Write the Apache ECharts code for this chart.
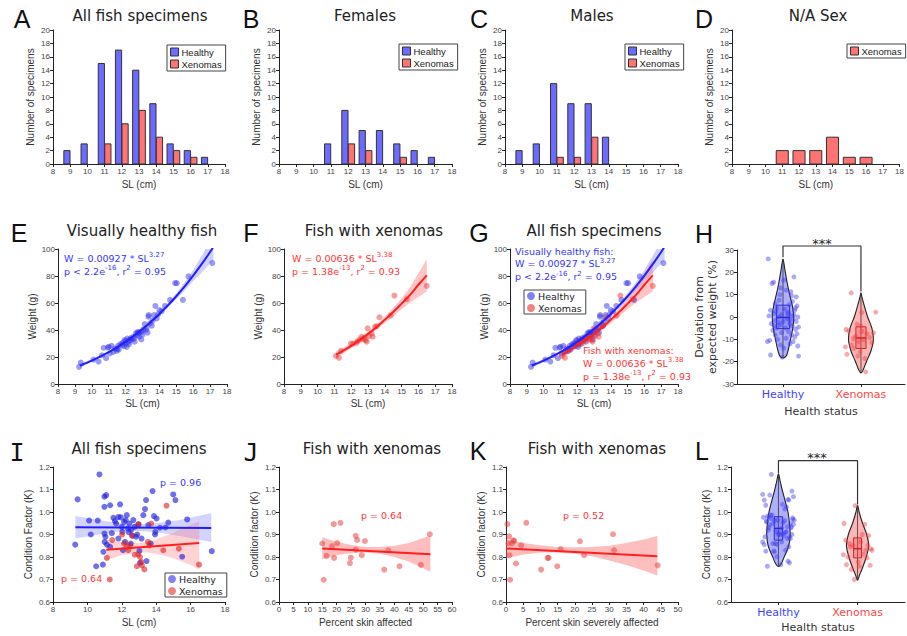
<!DOCTYPE html>
<html><head><meta charset="utf-8">
<script src="https://cdn.jsdelivr.net/npm/echarts@6/dist/echarts.min.js"></script>
<style>html,body{margin:0;padding:0;background:#fff}#c{width:907px;height:636px}</style>
</head><body><div id="c"></div>
<script>
// ---------- DATA ----------
const slBins = [9, 10, 11, 12, 13, 14, 15, 16, 17];
const allHealthy = [2, 3, 15, 17, 14, 9, 3, 2, 1];
const allXeno = [0, 0, 3, 6, 8, 4, 2, 1, 0];
const femHealthy = [0, 0, 3, 8, 5, 5, 3, 2, 1];
const femXeno = [0, 0, 0, 3, 2, 0, 1, 0, 0];
const maleHealthy = [2, 3, 12, 9, 9, 4, 0, 0, 0];
const maleXeno = [0, 0, 1, 1, 4, 0, 0, 0, 0];
const naXeno = [0, 0, 2, 2, 2, 4, 1, 1, 0];

// weight vs SL (cm, g)
const wHealthy = [[9.25,12.7],[9.35,15.9],[10.1,18.1],[10.4,16.6],[10.6,21.3],[10.7,26.8],[10.85,19.1],[10.95,27],[11.0,27.5],[11.07,22.6],
[11.17,28.3],[11.27,23.8],[11.37,26.3],[11.47,24.6],[11.56,28.3],[11.7,29.5],[11.82,30.5],[11.9,28],[11.94,32.5],[12.02,30],
[12.06,27.5],[12.1,33.7],[12.18,31.3],[12.26,32.5],[12.36,33],[12.46,35],[12.53,31.3],[12.61,37.5],[12.69,36.2],[12.77,38],
[12.85,38.7],[12.93,33],[12.97,38.7],[13.05,40.4],[13.13,44.4],[13.25,41.7],[13.3,38],[13.35,49.9],[13.37,51],[13.45,45],
[13.55,43.2],[13.68,51],[13.76,57.8],[13.84,48.6],[13.92,51.6],[14.0,54.8],[14.14,54],[14.33,57.8],[14.63,62.3],[14.93,74.7],
[15.03,74.7],[15.39,62.3],[15.72,79.7],[17.13,89.6],[11.5,26],[11.6,25.5],[11.8,29],[12.0,32],[12.2,29.5],[12.3,34],
[12.5,33.5],[12.7,38.5],[12.8,35],[13.0,36.5],[13.2,40],[13.6,47]];
const wXeno = [[11.09,20.8],[11.27,19.4],[11.39,24.6],[11.98,30],[12.12,30],[12.38,31.8],[12.52,33],[12.62,35],[12.78,34.2],[12.86,32.5],
[12.98,41.2],[13.06,35.5],[13.28,35],[13.42,42.4],[13.52,42.9],[13.68,49.4],[14.35,50.6],[14.57,65.5],[15.31,62.8],[16.5,72.7],
[12.72,33],[12.92,31.3],[13.22,37.5],[12.32,30.5]];

const healthyFitX = [9.3, 9.5, 10, 10.5, 11, 11.5, 12, 12.5, 13, 13.5, 14, 14.5, 15, 15.5, 16, 16.5, 17, 17.2];
const healthyFitY = [13.6, 14.6, 17.3, 20.3, 23.6, 27.3, 31.3, 35.8, 40.7, 46.1, 51.9, 58.2, 65.0, 72.4, 80.3, 88.8, 97.8, 101.8];
const healthyBandLow = [12.3, 13.4, 16.3, 19.5, 22.9, 26.7, 30.7, 35.1, 39.9, 45.1, 50.6, 56.4, 62.7, 69.3, 76.2, 82.5, 89.5, 91.5];
const healthyBandHigh = [15.0, 15.8, 18.3, 21.1, 24.3, 27.9, 31.9, 36.5, 41.5, 47.1, 53.2, 60.0, 67.3, 75.5, 84.4, 95.0, 106, 112];
const xenoFitX = [11.1, 11.5, 12, 12.5, 13, 13.5, 14, 14.5, 15, 15.5, 16, 16.5];
const xenoFitY = [21.7, 24.5, 28.3, 32.5, 37.1, 42.1, 47.6, 53.3, 59.5, 66.0, 73.5, 80.5];
const xenoBandLow = [19.3, 22.4, 26.5, 30.9, 35.5, 40.3, 45.2, 50.2, 55.3, 60.4, 64.5, 68.5];
const xenoBandHigh = [24.1, 26.6, 30.1, 34.1, 38.7, 43.9, 49.8, 56.4, 63.5, 71.4, 82.0, 92.5];

// deviation from expected weight (%) : [jitter, value]
const devHealthy = [[-0.19,26],[-0.14,15],[-0.12,15.6],[0.14,18],[0.01,16.5],[0.04,12],[0.1,11.3],[-0.03,13],[0.17,9],[-0.05,7.5],
[0.12,7],[-0.1,6],[0.08,5.5],[0.18,5],[-0.16,3],[-0.08,4],[0.02,3.5],[0.15,3],[0.07,2],[-0.12,1.5],
[-0.02,1],[0.1,0.5],[0.19,0],[-0.18,0.5],[-0.06,0],[0.05,-0.5],[0.13,-1],[-0.1,-1.5],[0.0,-2],[0.17,-2],
[-0.15,-3],[0.09,-3],[-0.04,-3.5],[0.12,-4],[0.2,-4.5],[-0.08,-5],[0.03,-5],[0.16,-5.5],[-0.13,-6],[0.07,-6.5],
[-0.02,-7],[0.18,-7.5],[-0.1,-8],[0.11,-8],[0.15,-9],[0.04,-9.5],[-0.07,-10],[-0.2,-11],[-0.17,-10.5],[0.13,-11],
[0.09,-12],[-0.03,-12.5],[0.19,-13],[0.01,-14],[-0.16,-17],[0.2,-17.5],[-0.01,-18],[0.06,1.5],[-0.09,2.5],[0.11,9.5],
[-0.04,10],[0.16,4],[-0.06,-2.5],[0.08,-1.5],[0.14,1],[-0.11,-4]];
const devXeno = [[-0.125,10.8],[0.19,2.2],[0.01,2],[-0.19,-5.6],[-0.16,-6.2],[0.16,-7.1],[0.08,-7.5],[-0.05,-3.2],[0.0,-4],[-0.07,-8.6],
[0.03,-10.1],[0.11,-9.2],[-0.2,-13.4],[-0.12,-12.6],[-0.18,-16.7],[-0.01,-15.6],[-0.04,-17.5],[0.05,-18.6],[0.06,-24.6],[-0.09,-14.1],
[0.14,-11.5],[-0.03,-11.0],[0.01,-6.5],[-0.1,-9.8]];
const devBoxHealthy = [-5.2, -0.2, 5.3];
const devBoxXeno = [-14.1, -9.4, -4.4];
const devViolinHealthyY = [26, 24, 20, 15, 10, 5, 0, -5, -10, -15, -17.5, -18.3];
const devViolinHealthyW = [0, 0.012, 0.03, 0.055, 0.086, 0.12, 0.138, 0.125, 0.097, 0.065, 0.04, 0];
const devViolinXenoY = [10.8, 9, 5, 0, -5, -10, -15, -20, -23.5, -25];
const devViolinXenoW = [0, 0.012, 0.043, 0.086, 0.14, 0.16, 0.13, 0.07, 0.03, 0];
const devBracket = [[1, 26.8], [1, 31.8], [2, 31.8], [2, 11.4]];

// condition factor vs SL
const kHealthy = [[9.29,0.855],[9.43,1.056],[10.1,0.962],[10.2,0.9],[10.51,0.759],[10.6,0.962],[10.7,1.167],[10.9,0.766],[10.99,1.068],[11.09,1.075],
[10.99,0.904],[11.0,0.867],[11.05,0.89],[11.13,0.855],[10.99,1.023],[11.32,1.03],[11.42,0.906],[11.51,0.974],[11.67,0.949],[11.32,0.845],
[11.8,0.978],[11.9,1.034],[11.94,0.976],[12.0,0.934],[12.03,0.912],[12.07,0.83],[12.13,0.956],[12.23,0.964],[12.29,0.986],[12.36,0.927],
[12.44,0.949],[12.54,0.92],[12.61,0.895],[12.67,0.964],[12.75,0.934],[12.83,0.89],[12.9,0.9],[12.96,0.945],[13.02,0.827],[13.06,0.774],
[13.25,0.986],[13.35,1.013],[13.41,1.053],[13.44,0.782],[13.68,0.86],[13.79,1.093],[13.87,0.982],[13.93,0.9],[13.95,0.912],[14.02,0.971],
[14.22,0.93],[14.54,0.931],[14.7,0.953],[14.99,1.078],[15.12,1.053],[15.51,0.801],[15.8,0.967],[17.23,0.826],[12.19,0.867],[12.52,0.86],
[13.15,0.882],[13.54,0.942],[11.8,0.882],[10.93,0.823],[12.4,0.91],[11.6,0.96]];
const kXeno = [[11.3,0.7],[11.13,0.796],[11.44,0.875],[12.02,0.9],[12.13,0.86],[12.38,0.83],[12.48,0.852],[12.6,0.895],[12.75,0.81],[12.88,0.759],
[12.98,0.945],[13.06,0.8],[13.17,0.763],[13.31,0.745],[13.52,0.867],[13.6,0.852],[13.71,0.949],[14.41,0.83],[14.6,1.028],[15.32,0.837],
[16.49,0.766],[12.96,0.812],[12.29,0.845],[13.13,0.778]];
const kHealthyFitX = [9.3, 17.2];
const kHealthyFitY = [0.932, 0.929];
const kHealthyBandX = [9.3, 10, 11, 12, 12.7, 13.5, 14.5, 15.5, 16.5, 17.2];
const kHealthyBandLow = [0.882, 0.891, 0.904, 0.914, 0.916, 0.913, 0.904, 0.891, 0.877, 0.867];
const kHealthyBandHigh = [0.982, 0.973, 0.960, 0.949, 0.946, 0.947, 0.955, 0.967, 0.983, 0.995];
const kXenoFitX = [11.1, 16.5];
const kXenoFitY = [0.832, 0.862];
const kXenoBandX = [11.1, 12, 13, 13.5, 14, 15, 16, 16.5];
const kXenoBandLow = [0.786, 0.808, 0.82, 0.82, 0.815, 0.795, 0.765, 0.745];
const kXenoBandHigh = [0.878, 0.865, 0.862, 0.868, 0.878, 0.908, 0.943, 0.96];

// condition factor vs percent skin affected
const skinAffected = [[15,0.86],[15.5,0.699],[16.5,0.805],[18.4,0.849],[19,0.946],[19.1,0.796],[20.2,0.862],[21.3,0.952],[24.6,0.773],[24.9,0.797],
[26.6,0.894],[26.6,0.833],[27.1,0.876],[28.7,0.808],[29.8,0.871],[36.5,0.744],[37.9,0.83],[41.8,0.759],[49.2,0.765],[52.3,0.901]];
const skinFitX = [15, 52.5];
const skinFitY = [0.838, 0.812];
const skinBandX = [15, 20, 25, 30, 35, 40, 45, 50, 52.5];
const skinBandLow = [0.79, 0.808, 0.818, 0.82, 0.815, 0.8, 0.78, 0.75, 0.735];
const skinBandHigh = [0.888, 0.868, 0.853, 0.845, 0.845, 0.85, 0.862, 0.885, 0.895];

const severe = [[0.4,0.946],[0.7,0.86],[0.9,0.892],[1.0,0.808],[1.2,0.699],[1.7,0.86],[2.1,0.874],[2.4,0.872],[2.9,0.771],[4.4,0.852],
[5.9,0.952],[10.2,0.744],[12.1,0.796],[12.4,0.796],[14.9,0.759],[15.9,0.835],[21.5,0.87],[22.7,0.808],[31.1,0.901],[31.4,0.83],[44.1,0.763]];
const severeFitX = [0, 44];
const severeFitY = [0.838, 0.803];
const severeBandX = [0, 5, 10, 15, 20, 25, 30, 35, 40, 44];
const severeBandLow = [0.795, 0.81, 0.82, 0.82, 0.815, 0.803, 0.785, 0.765, 0.74, 0.718];
const severeBandHigh = [0.88, 0.862, 0.852, 0.845, 0.843, 0.845, 0.85, 0.862, 0.878, 0.893];

// condition factor by status (jitter)
const kHealthyJitter = [-0.18,0.12,-0.05,0.17,-0.14,0.08,-0.09,0.03,0.19,-0.11,0.06,-0.2,0.14,-0.02,0.1,-0.16,0.01,0.18,-0.07,0.13,
-0.12,0.05,-0.19,0.16,-0.03,0.09,-0.15,0.2,-0.08,0.04,0.15,-0.13,0.07,-0.01,0.11,-0.17,0.02,0.19,-0.06,0.14,
-0.1,0.08,-0.18,0.12,-0.04,0.17,-0.14,0.0,0.1,-0.09,0.16,-0.12,0.06,-0.2,0.13,-0.02,0.18,-0.16,0.04,-0.07,
0.11,-0.11,0.15,-0.05,0.09,-0.15];
const kXenoJitter = [-0.04,0.12,-0.15,0.06,-0.1,0.18,-0.06,0.14,-0.18,0.02,0.09,-0.12,0.16,-0.08,0.04,0.13,-0.17,0.1,-0.03,0.17,-0.14,0.07,-0.09,0.01];
const kBoxHealthy = [0.875, 0.927, 0.979];
const kBoxXeno = [0.796, 0.837, 0.885];
const kViolinHealthyY = [1.17, 1.14, 1.1, 1.05, 1.0, 0.95, 0.9, 0.85, 0.8, 0.77, 0.757];
const kViolinHealthyW = [0, 0.02, 0.046, 0.084, 0.12, 0.14, 0.148, 0.13, 0.072, 0.035, 0];
const kViolinXenoY = [1.03, 1.0, 0.95, 0.9, 0.85, 0.8, 0.75, 0.72, 0.697];
const kViolinXenoW = [0, 0.02, 0.063, 0.116, 0.14, 0.11, 0.06, 0.025, 0];
const kBracket = [[1, 1.173], [1, 1.228], [2, 1.228], [2, 1.034]];

// ---------- STYLE ----------
const BLUE_BAR = '#6b6bff', RED_BAR = '#ff7373';
const BLUE_PT = 'rgba(45,45,235,0.6)', RED_PT = 'rgba(235,50,50,0.6)';
const BLUE_LINE = '#1f1fff', RED_LINE = '#ff1f1f';
const BLUE_BAND = 'rgba(100,100,255,0.3)', RED_BAND = 'rgba(255,100,100,0.38)';
const BLUE_TXT = '#3535ff', RED_TXT = '#ff3535';
const SANS = 'Liberation Sans', VER = 'DejaVu Sans';

const grids = [
 {left:53, top:30, width:172, height:134},
 {left:279, top:30, width:173, height:134},
 {left:505, top:30, width:173, height:134},
 {left:732, top:30, width:172, height:134},
 {left:58, top:249, width:169, height:135},
 {left:284, top:249, width:168, height:135},
 {left:510, top:249, width:168, height:135},
 {left:737, top:250, width:168, height:134},
 {left:53, top:467, width:172, height:135},
 {left:279, top:467, width:173, height:135},
 {left:506, top:467, width:172, height:135},
 {left:731, top:467, width:174, height:135}
];

function axis(gi, min, max, interval, name, nameGap, extra) {
  return Object.assign({
    type:'value', gridIndex:gi, min, max, interval, name, nameLocation:'middle', nameGap,
    nameTextStyle:{fontFamily:SANS, fontSize:10, color:'#333'},
    axisLine:{show:true, onZero:false, lineStyle:{color:'#222', width:1}},
    axisTick:{show:true, length:3, lineStyle:{color:'#222'}},
    axisLabel:{fontFamily:SANS, fontSize:8, color:'#444', margin:3},
    splitLine:{show:false}
  }, extra || {});
}
const kFmt = {fontFamily:SANS, fontSize:8, color:'#444', margin:3, formatter: v => v.toFixed(1)};
function statusAxis(gi, min, max, gap) {
  return {
    type:'value', gridIndex:gi, min, max, name:'Health status', nameLocation:'middle', nameGap:gap,
    nameTextStyle:{fontFamily:VER, fontSize:11, color:'#333'},
    axisLine:{show:true, onZero:false, lineStyle:{color:'#222', width:1}},
    axisTick:{show:true, length:3, customValues:[1, 2], lineStyle:{color:'#222'}},
    axisLabel:{customValues:[1, 2], margin:5,
      formatter: v => Math.round(v) === 1 ? '{h|Healthy}' : '{x|Xenomas}',
      rich:{h:{color:'#3f3fff', fontSize:11, fontFamily:VER}, x:{color:'#ff4545', fontSize:11, fontFamily:VER}}},
    splitLine:{show:false}
  };
}

const xAxis = [
  axis(0, 8, 18, 1, 'SL (cm)', 15), axis(1, 8, 18, 1, 'SL (cm)', 15),
  axis(2, 8, 18, 1, 'SL (cm)', 15), axis(3, 8, 18, 1, 'SL (cm)', 15),
  axis(4, 8, 18, 1, 'SL (cm)', 14), axis(5, 8, 18, 1, 'SL (cm)', 14), axis(6, 8, 18, 1, 'SL (cm)', 14),
  statusAxis(7, 0.41, 2.565, 22),
  axis(8, 8, 18, 2, 'SL (cm)', 15),
  axis(9, 0, 60, 5, 'Percent skin affected', 15),
  axis(10, 0, 50, 5, 'Percent skin severely affected', 15),
  statusAxis(11, 0.4, 2.6, 20)
];
const yAxis = [
  axis(0, 0, 20, 2, 'Number of specimens', 18), axis(1, 0, 20, 2, 'Number of specimens', 18),
  axis(2, 0, 20, 2, 'Number of specimens', 18), axis(3, 0, 20, 2, 'Number of specimens', 18),
  axis(4, 0, 100, 20, 'Weight (g)', 20), axis(5, 0, 100, 20, 'Weight (g)', 20), axis(6, 0, 100, 20, 'Weight (g)', 20),
  axis(7, -30, 30, 10, 'Deviation from\nexpected weight (%)', 18, {nameTextStyle:{fontFamily:VER, fontSize:11, color:'#333', lineHeight:13}}),
  axis(8, 0.6, 1.2, 0.1, 'Condition Factor (K)', 20, {axisLabel:kFmt}),
  axis(9, 0.6, 1.2, 0.1, 'Condition factor (K)', 20, {axisLabel:kFmt}),
  axis(10, 0.6, 1.2, 0.1, 'Condition factor (K)', 20, {axisLabel:kFmt}),
  axis(11, 0.6, 1.2, 0.1, 'Condition Factor (K)', 20, {axisLabel:kFmt})
];

// ---------- SERIES BUILDERS ----------
function histSeries(gi, bins, counts, offset, width, fill, name) {
  return {type:'custom', name, xAxisIndex:gi, yAxisIndex:gi, silent:true,
    data: bins.map((b, i) => [b, counts[i]]).filter(d => d[1] > 0),
    itemStyle:{color:fill, borderColor:'#333'},
    renderItem(params, api) {
      const x = api.value(0), y = api.value(1);
      const p0 = api.coord([x + offset - width / 2, y]), p1 = api.coord([x + offset + width / 2, 0]);
      return {type:'rect', shape:{x:p0[0], y:p0[1], width:p1[0] - p0[0], height:p1[1] - p0[1]},
        style:{fill, stroke:'#333', lineWidth:1}};
    }};
}
function bandSeries(gi, xs, lo, hi, fill) {
  return {type:'custom', xAxisIndex:gi, yAxisIndex:gi, silent:true, z:1, data:[[xs[0], lo[0]]],
    renderItem(params, api) {
      const pts = [];
      xs.forEach((x, i) => pts.push(api.coord([x, hi[i]])));
      for (let i = xs.length - 1; i >= 0; i--) pts.push(api.coord([xs[i], lo[i]]));
      const cs = params.coordSys;
      return {type:'polygon', shape:{points:pts}, style:{fill},
        clipPath:{type:'rect', shape:{x:cs.x, y:cs.y, width:cs.width, height:cs.height}}};
    }};
}
function lineSeries(gi, xs, ys, color) {
  return {type:'line', xAxisIndex:gi, yAxisIndex:gi, silent:true, z:4, smooth:true, symbol:'none', showSymbol:false,
    data: xs.map((x, i) => [x, ys[i]]), lineStyle:{color, width:2}, itemStyle:{color}};
}
function scatterSeries(gi, data, color, name, size) {
  return {type:'scatter', name, xAxisIndex:gi, yAxisIndex:gi, silent:true, z:3, data, symbolSize:size || 6,
    itemStyle:{color}};
}
function violinSeries(gi, cx, ys, ws, fill) {
  return {type:'custom', xAxisIndex:gi, yAxisIndex:gi, silent:true, z:1, data:[[cx, ys[0]]],
    renderItem(params, api) {
      const pts = [];
      ys.forEach((y, i) => pts.push(api.coord([cx + ws[i], y])));
      for (let i = ys.length - 2; i >= 1; i--) pts.push(api.coord([cx - ws[i], ys[i]]));
      return {type:'polygon', shape:{points:pts, smooth:0.35}, style:{fill, stroke:'#222', lineWidth:1.1}};
    }};
}
function boxSeries(gi, cx, st, lo, hi, hw, stroke, fill) {
  return {type:'custom', xAxisIndex:gi, yAxisIndex:gi, silent:true, z:2, data:[[cx, st[1]]],
    renderItem(params, api) {
      const a = api.coord([cx - hw, st[2]]), b = api.coord([cx + hw, st[0]]);
      const m1 = api.coord([cx - hw, st[1]]), m2 = api.coord([cx + hw, st[1]]);
      const t = api.coord([cx, hi]), u = api.coord([cx, lo]);
      return {type:'group', children:[
        {type:'line', shape:{x1:t[0], y1:t[1], x2:u[0], y2:u[1]}, style:{stroke:'#333', lineWidth:0.8}},
        {type:'rect', shape:{x:a[0], y:a[1], width:b[0] - a[0], height:b[1] - a[1]}, style:{fill, stroke, lineWidth:1}},
        {type:'line', shape:{x1:m1[0], y1:m1[1], x2:m2[0], y2:m2[1]}, style:{stroke, lineWidth:1.6}}
      ]};
    }};
}
function bracketSeries(gi, data) {
  return {type:'line', xAxisIndex:gi, yAxisIndex:gi, silent:true, clip:false, z:5, symbol:'none', showSymbol:false,
    data, lineStyle:{color:'#333', width:1.2}};
}

const series = [];
[[0, allHealthy, allXeno], [1, femHealthy, femXeno], [2, maleHealthy, maleXeno]].forEach(([gi, h, x]) => {
  series.push(histSeries(gi, slBins, h, -0.19, 0.36, BLUE_BAR, 'Healthy'));
  series.push(histSeries(gi, slBins, x, 0.19, 0.36, RED_BAR, 'Xenomas'));
});
series.push(histSeries(3, slBins, naXeno, 0, 0.72, RED_BAR, 'Xenomas'));
// E
series.push(bandSeries(4, healthyFitX, healthyBandLow, healthyBandHigh, BLUE_BAND));
series.push(scatterSeries(4, wHealthy, BLUE_PT, 'Healthy'));
series.push(lineSeries(4, healthyFitX, healthyFitY, BLUE_LINE));
// F
series.push(bandSeries(5, xenoFitX, xenoBandLow, xenoBandHigh, RED_BAND));
series.push(scatterSeries(5, wXeno, RED_PT, 'Xenomas'));
series.push(lineSeries(5, xenoFitX, xenoFitY, RED_LINE));
// G
series.push(bandSeries(6, healthyFitX, healthyBandLow, healthyBandHigh, BLUE_BAND));
series.push(bandSeries(6, xenoFitX, xenoBandLow, xenoBandHigh, RED_BAND));
series.push(scatterSeries(6, wHealthy, BLUE_PT, 'Healthy'));
series.push(scatterSeries(6, wXeno, RED_PT, 'Xenomas'));
series.push(lineSeries(6, healthyFitX, healthyFitY, BLUE_LINE));
series.push(lineSeries(6, xenoFitX, xenoFitY, RED_LINE));
// H
series.push(violinSeries(7, 1, devViolinHealthyY, devViolinHealthyW, 'rgba(110,110,255,0.55)'));
series.push(violinSeries(7, 2, devViolinXenoY, devViolinXenoW, 'rgba(255,120,120,0.55)'));
series.push(boxSeries(7, 1, devBoxHealthy, devViolinHealthyY[devViolinHealthyY.length - 1], devViolinHealthyY[0], 0.085, '#2a2ac8', 'rgba(90,90,255,0.35)'));
series.push(boxSeries(7, 2, devBoxXeno, devViolinXenoY[devViolinXenoY.length - 1], devViolinXenoY[0], 0.065, '#c82a2a', 'rgba(255,90,90,0.4)'));
series.push(scatterSeries(7, devHealthy.map(d => [1 + d[0], d[1]]), 'rgba(60,60,240,0.55)', 'Healthy', 5));
series.push(scatterSeries(7, devXeno.map(d => [2 + d[0], d[1]]), 'rgba(240,60,60,0.55)', 'Xenomas', 5));
series.push(bracketSeries(7, devBracket));
// I
series.push(bandSeries(8, kHealthyBandX, kHealthyBandLow, kHealthyBandHigh, 'rgba(110,110,255,0.3)'));
series.push(bandSeries(8, kXenoBandX, kXenoBandLow, kXenoBandHigh, 'rgba(255,110,110,0.3)'));
series.push(scatterSeries(8, kHealthy, 'rgba(30,30,220,0.8)', 'Healthy'));
series.push(scatterSeries(8, kXeno, 'rgba(220,30,30,0.75)', 'Xenomas'));
series.push(lineSeries(8, kHealthyFitX, kHealthyFitY, BLUE_LINE));
series.push(lineSeries(8, kXenoFitX, kXenoFitY, RED_LINE));
// J
series.push(bandSeries(9, skinBandX, skinBandLow, skinBandHigh, 'rgba(255,110,110,0.45)'));
series.push(scatterSeries(9, skinAffected, 'rgba(230,60,60,0.65)', 'Xenomas'));
series.push(lineSeries(9, skinFitX, skinFitY, RED_LINE));
// K
series.push(bandSeries(10, severeBandX, severeBandLow, severeBandHigh, 'rgba(255,110,110,0.45)'));
series.push(scatterSeries(10, severe, 'rgba(230,60,60,0.65)', 'Xenomas'));
series.push(lineSeries(10, severeFitX, severeFitY, RED_LINE));
// L
series.push(violinSeries(11, 1, kViolinHealthyY, kViolinHealthyW, 'rgba(110,110,255,0.55)'));
series.push(violinSeries(11, 2, kViolinXenoY, kViolinXenoW, 'rgba(255,120,120,0.55)'));
series.push(boxSeries(11, 1, kBoxHealthy, kViolinHealthyY[kViolinHealthyY.length - 1], kViolinHealthyY[0], 0.053, '#2a2ac8', 'rgba(90,90,255,0.35)'));
series.push(boxSeries(11, 2, kBoxXeno, kViolinXenoY[kViolinXenoY.length - 1], kViolinXenoY[0], 0.05, '#c82a2a', 'rgba(255,90,90,0.4)'));
series.push(scatterSeries(11, kHealthy.map((d, i) => [1 + kHealthyJitter[i], d[1]]), 'rgba(60,60,240,0.55)', 'Healthy', 5));
series.push(scatterSeries(11, kXeno.map((d, i) => [2 + kXenoJitter[i], d[1]]), 'rgba(240,60,60,0.55)', 'Xenomas', 5));
series.push(bracketSeries(11, kBracket));

// ---------- LEGENDS ----------
function barLegend(left, top, names) {
  return {left, top, orient:'vertical', icon:'rect', itemWidth:8, itemHeight:8, itemGap:2, selectedMode:false,
    borderColor:'#444', borderWidth:1, borderRadius:0, padding:[2, 4, 2, 3], backgroundColor:'#fff',
    textStyle:{fontFamily:SANS, fontSize:9.5, color:'#222', padding:[0, 0, 0, -2]},
    data: names.map(n => ({name:n, itemStyle:{color: n === 'Healthy' ? BLUE_BAR : RED_BAR, borderColor:'#333', borderWidth:1}}))};
}
function dotLegend(left, top) {
  return {left, top, orient:'vertical', icon:'circle', itemWidth:8, itemHeight:8, itemGap:2, selectedMode:false,
    borderColor:'#444', borderWidth:1, borderRadius:0, padding:[1, 4, 1, 3],
    textStyle:{fontFamily:VER, fontSize:9.5, color:'#222', padding:[0, 0, 0, -2]},
    data:[{name:'Healthy', itemStyle:{color:'rgba(60,60,240,0.65)'}}, {name:'Xenomas', itemStyle:{color:'rgba(240,60,60,0.65)'}}]};
}
const legend = [
  barLegend(167, 45, ['Healthy', 'Xenomas']),
  barLegend(399, 44, ['Healthy', 'Xenomas']),
  barLegend(625, 44, ['Healthy', 'Xenomas']),
  barLegend(847, 44, ['Xenomas']),
  dotLegend(524, 290),
  dotLegend(165, 573)
];

// ---------- TEXT ----------
function txt(x, y, text, size, family, fill, align) {
  return {type:'text', x, y, silent:true, z:100, style:{text, fontFamily:family, fontSize:size, fill,
    align:align, textAlign:align, verticalAlign:'middle', textVerticalAlign:'middle'}};
}
function ann(x, y, text, color) {
  return {type:'text', x, y, silent:true, z:100, style:{text, fontFamily:VER, fontSize:9.5, fill:color,
    align:'left', textAlign:'left', verticalAlign:'middle', textVerticalAlign:'middle',
    rich:{s:{fontFamily:VER, fontSize:7, fill:color, padding:[0, 0, 6, 0]}}}};
}
const graphic = [
  txt(22, 19, 'A', 25, SANS, '#111', 'center'), txt(251, 19, 'B', 25, SANS, '#111', 'center'),
  txt(479, 19, 'C', 25, SANS, '#111', 'center'), txt(704, 19, 'D', 25, SANS, '#111', 'center'),
  txt(19, 233, 'E', 25, SANS, '#111', 'center'), txt(251, 233, 'F', 25, SANS, '#111', 'center'),
  txt(479, 233, 'G', 25, SANS, '#111', 'center'), txt(704, 234, 'H', 25, SANS, '#111', 'center'),
  txt(17, 452, 'I', 25, 'DejaVu Sans Mono', '#111', 'center'), txt(251, 452, 'J', 25, 'DejaVu Sans Mono', '#111', 'center'),
  txt(478, 451, 'K', 25, SANS, '#111', 'center'), txt(702, 451, 'L', 25, SANS, '#111', 'center'),
  txt(140, 16, 'All fish specimens', 15, VER, '#222', 'center'),
  txt(365, 16, 'Females', 15, VER, '#222', 'center'),
  txt(592, 16, 'Males', 15, VER, '#222', 'center'),
  txt(818, 16, 'N/A Sex', 15, VER, '#222', 'center'),
  txt(142, 231, 'Visually healthy fish', 15, VER, '#222', 'center'),
  txt(374, 231, 'Fish with xenomas', 15, VER, '#222', 'center'),
  txt(594, 231, 'All fish specimens', 15, VER, '#222', 'center'),
  txt(139, 449, 'All fish specimens', 15, VER, '#222', 'center'),
  txt(372, 449, 'Fish with xenomas', 15, VER, '#222', 'center'),
  txt(597, 449, 'Fish with xenomas', 15, VER, '#222', 'center'),
  ann(64, 258, 'W = 0.00927 * SL{s|3.27}', BLUE_TXT),
  ann(64, 271, 'p < 2.2e{s|-16}, r{s|2} = 0.95', BLUE_TXT),
  ann(292, 258, 'W = 0.00636 * SL{s|3.38}', RED_TXT),
  ann(292, 271, 'p = 1.38e{s|-13}, r{s|2} = 0.93', RED_TXT),
  ann(515, 251, 'Visually healthy fish:', BLUE_TXT),
  ann(515, 263.5, 'W = 0.00927 * SL{s|3.27}', BLUE_TXT),
  ann(515, 276.5, 'p < 2.2e{s|-16}, r{s|2} = 0.95', BLUE_TXT),
  ann(583, 350.5, 'Fish with xenomas:', RED_TXT),
  ann(583, 363, 'W = 0.00636 * SL{s|3.38}', RED_TXT),
  ann(583, 376, 'p = 1.38e{s|-13}, r{s|2} = 0.93', RED_TXT),
  txt(160, 482, 'p = 0.96', 9.5, VER, BLUE_TXT, 'left'),
  txt(61, 578, 'p = 0.64', 9.5, VER, RED_TXT, 'left'),
  txt(361, 515, 'p = 0.64', 9.5, VER, RED_TXT, 'left'),
  txt(563, 515, 'p = 0.52', 9.5, VER, RED_TXT, 'left'),
  txt(822, 243, '***', 13, VER, '#222', 'center'),
  txt(817, 457, '***', 13, VER, '#222', 'center')
];

const chart = echarts.init(document.getElementById('c'), null, {renderer:'svg'});
chart.setOption({
  animation:false, backgroundColor:'#fff',
  grid: grids.map(g => Object.assign({containLabel:false}, g)),
  xAxis, yAxis, series, legend, graphic
});
</script></body></html>
